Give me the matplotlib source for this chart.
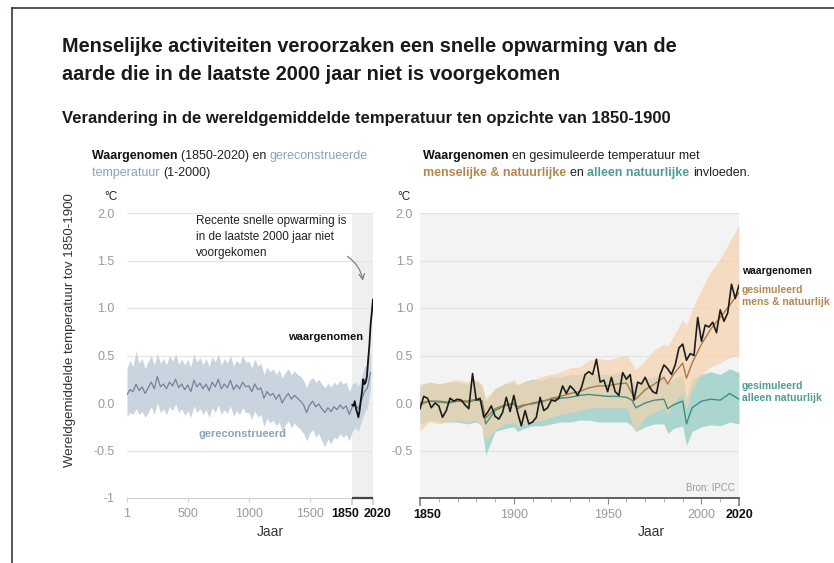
import matplotlib
matplotlib.use('Agg')
import matplotlib.pyplot as plt
from matplotlib.lines import Line2D
from matplotlib.transforms import ScaledTranslation

plt.rcParams['font.family'] = ['Liberation Sans', 'DejaVu Sans']

# ---- gegevens ----
recon_years = [1] + list(range(25, 2001, 25))
recon_mid = [0.09, 0.14, 0.12, 0.20, 0.13, 0.17, 0.10, 0.16, 0.22, 0.15,
             0.28, 0.17, 0.20, 0.15, 0.22, 0.18, 0.25, 0.16, 0.20, 0.14,
             0.19, 0.12, 0.24, 0.17, 0.21, 0.15, 0.20, 0.13, 0.22, 0.17,
             0.25, 0.15, 0.20, 0.16, 0.24, 0.14, 0.19, 0.15, 0.22, 0.17,
             0.18, 0.12, 0.20, 0.14, 0.16, 0.05, 0.12, 0.08, 0.10, 0.04,
             0.09, 0.00, 0.06, 0.10, 0.04, 0.08, 0.05, 0.02, -0.02, -0.10,
             -0.02, 0.02, -0.04, -0.01, -0.06, -0.10, -0.05, -0.09, -0.04, -0.07,
             -0.02, -0.06, -0.03, -0.12, -0.04, -0.02, -0.06, 0.03, 0.12, 0.16,
             0.32]
recon_hi = [0.36, 0.45, 0.38, 0.55, 0.42, 0.47, 0.36, 0.44, 0.50, 0.40,
            0.52, 0.42, 0.47, 0.40, 0.50, 0.44, 0.52, 0.41, 0.46, 0.40,
            0.46, 0.38, 0.52, 0.43, 0.48, 0.40, 0.47, 0.38, 0.49, 0.43,
            0.52, 0.40, 0.47, 0.42, 0.50, 0.39, 0.45, 0.41, 0.50, 0.43,
            0.44, 0.37, 0.46, 0.39, 0.42, 0.30, 0.38, 0.33, 0.36, 0.30,
            0.35, 0.26, 0.32, 0.36, 0.30, 0.34, 0.30, 0.28, 0.24, 0.16,
            0.24, 0.27, 0.22, 0.25, 0.20, 0.16, 0.21, 0.17, 0.22, 0.19,
            0.24, 0.20, 0.22, 0.12, 0.20, 0.22, 0.18, 0.27, 0.38, 0.42,
            0.55]
recon_lo = [-0.14, -0.10, -0.12, -0.06, -0.12, -0.09, -0.15, -0.10, -0.04, -0.12,
            0.00, -0.10, -0.06, -0.12, -0.04, -0.08, -0.01, -0.10, -0.06, -0.13,
            -0.08, -0.15, -0.03, -0.10, -0.06, -0.12, -0.07, -0.15, -0.05, -0.10,
            -0.02, -0.12, -0.07, -0.11, -0.03, -0.14, -0.08, -0.12, -0.05, -0.10,
            -0.10, -0.17, -0.08, -0.15, -0.12, -0.25, -0.16, -0.21, -0.18, -0.24,
            -0.20, -0.30, -0.23, -0.19, -0.26, -0.21, -0.25, -0.28, -0.32, -0.40,
            -0.32, -0.28, -0.36, -0.32, -0.40, -0.46, -0.38, -0.43, -0.36, -0.38,
            -0.32, -0.36, -0.33, -0.40, -0.30, -0.26, -0.30, -0.20, -0.10, -0.05,
            0.15]

dec_years = list(range(1850, 2021, 10))
dec_obs = [-0.02, -0.03, 0.02, -0.06, -0.10, -0.15, -0.08, 0.03, 0.12,
           0.25, 0.20, 0.22, 0.28, 0.45, 0.60, 0.82, 0.95, 1.09]

obs_years = list(range(1850, 2021, 2))
obs = [-0.06, 0.07, 0.05, -0.05, 0.00, -0.03, -0.15, -0.08, 0.05, 0.02,
       0.04, 0.03, -0.02, -0.06, 0.31, 0.03, 0.05, -0.15, -0.10, -0.03,
       -0.14, -0.17, -0.10, 0.06, -0.09, 0.08, -0.10, -0.24, -0.08, -0.22,
       -0.20, -0.15, 0.06, -0.08, -0.05, 0.03, 0.02, 0.05, 0.18, 0.10,
       0.18, 0.14, 0.08, 0.16, 0.30, 0.33, 0.30, 0.46, 0.22, 0.24,
       0.12, 0.27, 0.12, 0.08, 0.32, 0.25, 0.30, 0.03, 0.22, 0.20,
       0.27, 0.18, 0.12, 0.10, 0.30, 0.40, 0.36, 0.30, 0.40, 0.58,
       0.62, 0.45, 0.52, 0.50, 0.90, 0.65, 0.82, 0.80, 0.85, 0.74,
       0.98, 0.86, 0.95, 1.25, 1.10, 1.24]

sim_years = [1850, 1855, 1860, 1865, 1870, 1875, 1880, 1883, 1885, 1890,
             1895, 1900, 1902, 1905, 1910, 1915, 1920, 1925, 1930, 1935,
             1940, 1945, 1950, 1955, 1960, 1963, 1965, 1970, 1975, 1980,
             1982, 1985, 1990, 1992, 1995, 2000, 2005, 2010, 2015, 2020]
hn_mid = [-0.02, 0.02, 0.02, 0.01, 0.03, 0.02, 0.04, 0.02, -0.16, -0.06,
          -0.02, 0.00, -0.04, -0.02, -0.01, 0.01, 0.05, 0.07, 0.10, 0.12,
          0.16, 0.18, 0.18, 0.20, 0.21, 0.10, 0.04, 0.14, 0.20, 0.27,
          0.20, 0.30, 0.42, 0.26, 0.42, 0.62, 0.78, 0.90, 1.03, 1.16]
hn_hi = [0.20, 0.22, 0.20, 0.22, 0.25, 0.22, 0.24, 0.20, 0.05, 0.15,
         0.20, 0.25, 0.20, 0.22, 0.24, 0.28, 0.30, 0.33, 0.37, 0.38,
         0.45, 0.47, 0.45, 0.48, 0.50, 0.42, 0.35, 0.45, 0.56, 0.62,
         0.60, 0.70, 0.88, 0.82, 0.98, 1.20, 1.38, 1.52, 1.70, 1.87]
hn_lo = [-0.30, -0.20, -0.22, -0.20, -0.18, -0.20, -0.18, -0.25, -0.40, -0.28,
         -0.22, -0.20, -0.25, -0.22, -0.20, -0.18, -0.15, -0.12, -0.10, -0.08,
         -0.05, -0.05, -0.05, -0.05, -0.05, -0.20, -0.30, -0.15, -0.10, -0.05,
         -0.12, 0.00, 0.10, -0.08, 0.15, 0.30, 0.38, 0.42, 0.48, 0.50]
nat_mid = [0.00, 0.02, 0.01, 0.00, 0.02, 0.01, 0.03, 0.02, -0.22, -0.08,
           -0.03, -0.01, -0.06, -0.03, 0.00, 0.02, 0.04, 0.05, 0.06, 0.08,
           0.09, 0.08, 0.07, 0.07, 0.06, 0.03, -0.05, 0.00, 0.03, 0.04,
           -0.06, -0.02, 0.02, -0.22, -0.05, 0.02, 0.04, 0.03, 0.10, 0.04]
nat_hi = [0.18, 0.22, 0.20, 0.22, 0.22, 0.20, 0.24, 0.18, 0.02, 0.15,
          0.20, 0.22, 0.18, 0.22, 0.25, 0.24, 0.28, 0.27, 0.30, 0.30,
          0.32, 0.30, 0.30, 0.32, 0.30, 0.26, 0.18, 0.25, 0.28, 0.30,
          0.20, 0.25, 0.30, 0.05, 0.25, 0.30, 0.33, 0.30, 0.36, 0.32]
nat_lo = [-0.22, -0.18, -0.20, -0.20, -0.20, -0.22, -0.20, -0.24, -0.55, -0.30,
          -0.27, -0.25, -0.30, -0.27, -0.24, -0.24, -0.22, -0.20, -0.20, -0.18,
          -0.18, -0.20, -0.20, -0.20, -0.20, -0.24, -0.30, -0.25, -0.22, -0.22,
          -0.32, -0.27, -0.24, -0.45, -0.30, -0.25, -0.23, -0.24, -0.20, -0.22]

yticks = [-1, -0.5, 0, 0.5, 1, 1.5, 2]
ylabels = ['-1', '-0.5', '0.0', '0.5', '1.0', '1.5', '2.0']
left_xticks = [1, 500, 1000, 1500, 1850, 2020]
right_xticks = [1850, 1900, 1950, 2000, 2020]

# kleuren
C_RECON_BAND = '#c9d4df'
C_RECON_LINE = '#71849a'
C_RECON_TXT = '#8ea2b7'
C_HN_BAND = '#f5d2ac'
C_HN_LINE = '#a87b45'
C_HN_TXT = '#b3884f'
C_NAT_BAND = '#a3d3cd'
C_NAT_LINE = '#3f8e85'
C_NAT_TXT = '#4f9c93'
C_TICK = '#9a9a9a'

W, H = 834, 563
fig = plt.figure(figsize=(W / 100, H / 100), dpi=100)


def fx(x):
    return x / W


def fy(y):
    return 1 - y / H


def rich_line(x, y, parts, size=9):
    # stukjes tekst achter elkaar in verschillende kleuren
    r = fig.canvas.get_renderer()
    for s, color, weight in parts:
        t = fig.text(fx(x), fy(y), s, color=color, fontsize=size,
                     fontweight=weight, va='center', ha='left')
        x += t.get_window_extent(r).width


def shift_label(lbl, dx):
    lbl.set_transform(lbl.get_transform() + ScaledTranslation(dx / 100, 0, fig.dpi_scale_trans))


# kader van de schermafdruk
fig.add_artist(Line2D([fx(12), 1], [fy(8), fy(8)], color='#2f3a4a', lw=1.2))
fig.add_artist(Line2D([fx(12), fx(12)], [fy(8), 0], color='#2f3a4a', lw=1.2))

# titels
fig.text(fx(62), fy(47), 'Menselijke activiteiten veroorzaken een snelle opwarming van de',
         fontsize=14.3, fontweight='bold', color='#1a1a1a', va='center')
fig.text(fx(62), fy(75), 'aarde die in de laatste 2000 jaar niet is voorgekomen',
         fontsize=14.3, fontweight='bold', color='#1a1a1a', va='center')
fig.text(fx(62), fy(118), 'Verandering in de wereldgemiddelde temperatuur ten opzichte van 1850-1900',
         fontsize=12, fontweight='bold', color='#1a1a1a', va='center')

# kopjes per paneel
rich_line(92, 156, [('Waargenomen ', '#111111', 'bold'),
                    ('(1850-2020) en ', '#222222', 'normal'),
                    ('gereconstrueerde', C_RECON_TXT, 'normal')])
rich_line(92, 173, [('temperatuur ', C_RECON_TXT, 'normal'),
                    ('(1-2000)', '#222222', 'normal')])
rich_line(423, 156, [('Waargenomen ', '#111111', 'bold'),
                     ('en gesimuleerde temperatuur met', '#222222', 'normal')])
rich_line(423, 173, [('menselijke & natuurlijke ', C_HN_TXT, 'bold'),
                     ('en ', '#222222', 'normal'),
                     ('alleen natuurlijke ', C_NAT_TXT, 'bold'),
                     ('invloeden.', '#222222', 'normal')])

fig.text(fx(104), fy(197), '°C', fontsize=8.5, color='#222222', va='center')
fig.text(fx(397), fy(197), '°C', fontsize=8.5, color='#222222', va='center')
fig.text(fx(70), fy(330), 'Wereldgemiddelde temperatuur tov 1850-1900', rotation=90,
         fontsize=9.5, color='#333333', va='center', ha='center')

axL = fig.add_axes([fx(127), fy(498), (373 - 127) / W, (498 - 213) / H])
axR = fig.add_axes([fx(420), fy(498), (739 - 420) / W, (498 - 213) / H])

# ---- linker paneel ----
axL.axvspan(1850, 2020, color='#efefef', lw=0, zorder=0)
for v in yticks[1:]:
    axL.axhline(v, color='#e4e4e4', lw=0.8, zorder=0.5)
axL.fill_between(recon_years, recon_lo, recon_hi, color=C_RECON_BAND, lw=0, zorder=1)
axL.plot(recon_years, recon_mid, color=C_RECON_LINE, lw=0.9, zorder=2)
axL.plot(dec_years, dec_obs, color='#111111', lw=1.3, zorder=3)
axL.set_xlim(1, 2020)
axL.set_ylim(-1, 2)

axL.annotate('', xy=(1940, 1.26), xytext=(1790, 1.56),
             arrowprops=dict(arrowstyle='->', color='#777777', lw=0.8,
                             connectionstyle='arc3,rad=-0.25'))
axL.text(565, 1.98, 'Recente snelle opwarming is\nin de laatste 2000 jaar niet\nvoorgekomen',
         fontsize=8.5, color='#222222', va='top', ha='left', linespacing=1.45)
axL.text(1635, 0.70, 'waargenomen', fontsize=8, fontweight='bold', color='#111111',
         ha='center', va='center')
axL.text(950, -0.33, 'gereconstrueerd', fontsize=8, fontweight='bold', color=C_RECON_TXT,
         ha='center', va='center')

for s in ['top', 'right', 'left']:
    axL.spines[s].set_visible(False)
axL.spines['bottom'].set_color('#d0d0d0')
axL.set_xticks(left_xticks)
axL.set_xticklabels([str(v) for v in left_xticks])
axL.tick_params(axis='x', length=3, color='#d0d0d0', labelsize=9, pad=4)
for tick, lbl in zip(axL.xaxis.get_major_ticks(), axL.get_xticklabels()):
    txt = lbl.get_text()
    if txt in ('1850', '2020'):
        lbl.set_color('#111111')
        lbl.set_fontweight('bold')
        tick.tick1line.set_color('#444444')
        tick.tick1line.set_markersize(5)
        tick.tick1line.set_markeredgewidth(1.3)
        shift_label(lbl, -7 if txt == '1850' else 5)
    else:
        lbl.set_color(C_TICK)
axL.plot([1850, 2020], [0, 0], transform=axL.get_xaxis_transform(),
         color='#444444', lw=1.6, clip_on=False, zorder=5, solid_capstyle='butt')
axL.set_yticks(yticks)
axL.set_yticklabels(ylabels)
axL.tick_params(axis='y', length=0, labelsize=9, labelcolor=C_TICK, pad=9)
axL.set_xlabel('Jaar', fontsize=10, color='#333333')
axL.xaxis.set_label_coords((270 - 127) / (373 - 127), -0.095)

# ---- rechter paneel ----
axR.set_facecolor('#f3f3f3')
for v in yticks[1:]:
    axR.axhline(v, color='#e2e2e2', lw=0.8, zorder=0.5)
axR.fill_between(sim_years, nat_lo, nat_hi, color=C_NAT_BAND, alpha=0.9, lw=0, zorder=1)
axR.fill_between(sim_years, hn_lo, hn_hi, color=C_HN_BAND, alpha=0.7, lw=0, zorder=2)
axR.plot(sim_years, nat_mid, color=C_NAT_LINE, lw=1.0, zorder=3)
axR.plot(sim_years, hn_mid, color=C_HN_LINE, lw=1.0, zorder=3)
axR.plot(obs_years, obs, color='#1c1c1c', lw=1.2, zorder=4)
axR.set_xlim(1850, 2020)
axR.set_ylim(-1, 2)

for s in ['top', 'right', 'left']:
    axR.spines[s].set_visible(False)
axR.spines['bottom'].set_color('#555555')
axR.spines['bottom'].set_linewidth(1.3)
axR.set_xticks(right_xticks)
axR.set_xticklabels([str(v) for v in right_xticks])
axR.set_xticks(list(range(1850, 2021, 10)), minor=True)
axR.tick_params(axis='x', which='major', length=4, color='#888888', labelsize=9, pad=4)
axR.tick_params(axis='x', which='minor', length=3, color='#aaaaaa')
for tick, lbl in zip(axR.xaxis.get_major_ticks(), axR.get_xticklabels()):
    txt = lbl.get_text()
    if txt in ('1850', '2020'):
        lbl.set_color('#111111')
        lbl.set_fontweight('bold')
        tick.tick1line.set_color('#555555')
        tick.tick1line.set_markersize(6)
        tick.tick1line.set_markeredgewidth(1.3)
        if txt == '1850':
            shift_label(lbl, 7)
    else:
        lbl.set_color(C_TICK)
axR.set_yticks(yticks[1:])
axR.set_yticklabels(ylabels[1:])
axR.tick_params(axis='y', length=0, labelsize=9, labelcolor=C_TICK, pad=5)
axR.set_xlabel('Jaar', fontsize=10, color='#333333')
axR.xaxis.set_label_coords((651 - 420) / (739 - 420), -0.095)

# labels rechts
fig.text(fx(742), fy(271), 'waargenomen', fontsize=7.5, fontweight='bold', color='#111111', va='center')
fig.text(fx(742), fy(296), 'gesimuleerd\nmens & natuurlijk', fontsize=7.5, fontweight='bold',
         color=C_HN_TXT, va='center', linespacing=1.3)
fig.text(fx(742), fy(392), 'gesimuleerd\nalleen natuurlijk', fontsize=7.5, fontweight='bold',
         color=C_NAT_TXT, va='center', linespacing=1.3)
fig.text(fx(735), fy(488), 'Bron: IPCC', fontsize=7, color='#999999', ha='right', va='center')

fig.savefig('out.png', dpi=100, facecolor='white')
